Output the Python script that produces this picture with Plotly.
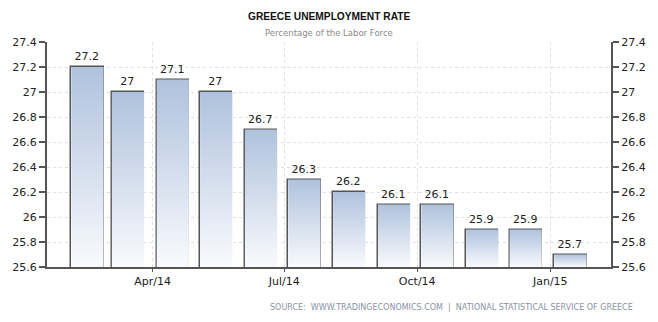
import plotly.graph_objects as go
import pandas as pd

months = ["2014-02-15", "2014-03-15", "2014-04-15", "2014-05-15", "2014-06-15", "2014-07-15",
          "2014-08-15", "2014-09-15", "2014-10-15", "2014-11-15", "2014-12-15", "2015-01-15"]
values = [27.2, 27.0, 27.1, 27.0, 26.7, 26.3, 26.2, 26.1, 26.1, 25.9, 25.9, 25.7]
labels = ["27.2", "27", "27.1", "27", "26.7", "26.3", "26.2", "26.1", "26.1", "25.9", "25.9", "25.7"]
x_ticks = ["2014-04-01", "2014-07-01", "2014-10-01", "2015-01-01"]
x_tick_text = ["Apr/14", "Jul/14", "Oct/14", "Jan/15"]
y_ticks = [25.6, 25.8, 26.0, 26.2, 26.4, 26.6, 26.8, 27.0, 27.2, 27.4]
y_tick_text = ["25.6", "25.8", "26", "26.2", "26.4", "26.6", "26.8", "27", "27.2", "27.4"]

FONT = "DejaVu Sans"
y_min, y_max = 25.6, 27.4
bar_days = 22.3
half = pd.Timedelta(days=bar_days / 2)
bar_width_ms = bar_days * 86400000

fig = go.Figure()

# gradient fills, one per bar
for d, v in zip(months, values):
    c = pd.Timestamp(d)
    fig.add_trace(go.Scatter(
        x=[c - half, c - half, c + half, c + half, c - half],
        y=[y_min, v, v, y_min, y_min],
        mode="lines", line=dict(width=0), fill="toself",
        fillgradient=dict(type="vertical",
                          colorscale=[[0, "#f9fafd"], [1, "#afc2dd"]],
                          start=y_min, stop=v),
        hoverinfo="skip", showlegend=False,
    ))

# outlines + value labels
fig.add_trace(go.Bar(
    x=months, y=values, width=bar_width_ms,
    marker=dict(color="rgba(0,0,0,0)", line=dict(color="#555555", width=1.5)),
    text=labels, textposition="outside", cliponaxis=False,
    textfont=dict(family=FONT, size=11, color="#222222"),
    showlegend=False,
))

# invisible trace for right axis
fig.add_trace(go.Scatter(x=[months[0]], y=[values[0]], yaxis="y2", mode="markers",
                         marker=dict(opacity=0), hoverinfo="skip", showlegend=False))

axis_common = dict(
    range=[y_min, y_max], tickvals=y_ticks, ticktext=y_tick_text,
    tickfont=dict(family=FONT, size=11, color="#222222"),
    ticks="outside", ticklen=6, tickcolor="#555555", tickwidth=1.5,
    showline=True, linecolor="#555555", linewidth=2,
    zeroline=False,
)

fig.update_layout(
    width=658, height=322,
    margin=dict(l=44, r=43, t=42, b=55),
    paper_bgcolor="white", plot_bgcolor="white",
    bargap=0,
    xaxis=dict(
        type="date", range=["2014-01-18", "2015-02-12"],
        tickvals=x_ticks, ticktext=x_tick_text,
        tickfont=dict(family=FONT, size=11, color="#222222"),
        ticks="outside", ticklen=3, tickcolor="#555555",
        showline=True, linecolor="#555555", linewidth=2,
        showgrid=True, gridcolor="#e0e0e0", griddash="dot", gridwidth=1,
        zeroline=False,
    ),
    yaxis=dict(**axis_common, side="left", showgrid=True, gridcolor="#e0e0e0",
               griddash="dot", gridwidth=1),
    yaxis2=dict(**axis_common, side="right", overlaying="y", showgrid=False),
)

# position annotations in pixel terms converted to paper coordinates
pw, ph = 658 - 44 - 43, 322 - 42 - 55
def px(xp): return (xp - 44) / pw
def py(yp): return (322 - 55 - yp) / ph

fig.update_layout(annotations=[
    dict(text="<b>GREECE UNEMPLOYMENT RATE</b>", x=px(330), y=py(17),
         xref="paper", yref="paper", xanchor="center", yanchor="middle",
         showarrow=False, font=dict(family="Liberation Sans", size=10.2, color="#111111")),
    dict(text="Percentage of the Labor Force", x=px(329), y=py(33),
         xref="paper", yref="paper", xanchor="center", yanchor="middle",
         showarrow=False, font=dict(family=FONT, size=8.5, color="#8a8a8a")),
    dict(text="SOURCE:  WWW.TRADINGECONOMICS.COM  |  NATIONAL STATISTICAL SERVICE OF GREECE",
         x=px(639), y=py(307), xref="paper", yref="paper", xanchor="right", yanchor="middle",
         showarrow=False, font=dict(family=FONT, size=8, color="#8792a2")),
])

fig.write_html("out.html")
